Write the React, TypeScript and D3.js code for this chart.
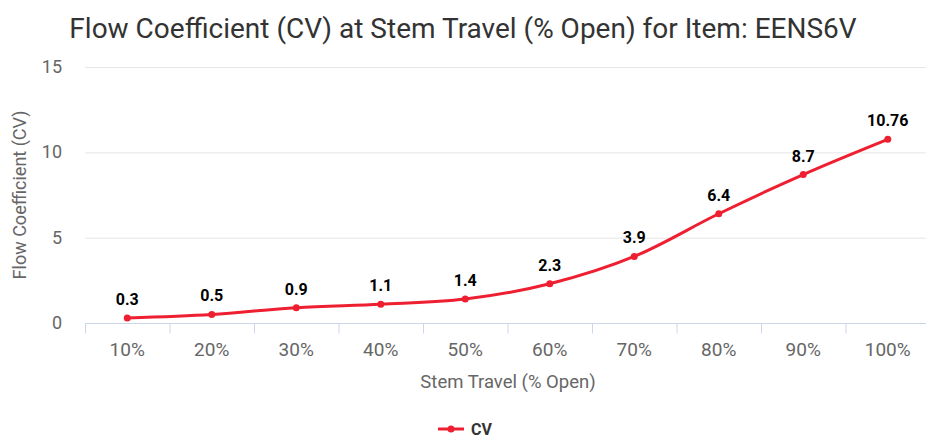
import { useEffect, useRef } from "react";
import * as d3 from "d3";

const categories = ["10%", "20%", "30%", "40%", "50%", "60%", "70%", "80%", "90%", "100%"];
const cvValues = [0.3, 0.5, 0.9, 1.1, 1.4, 2.3, 3.9, 6.4, 8.7, 10.76];
const yTicks = [0, 5, 10, 15];

const W = 926;
const H = 438;
const FONT = "Roboto, 'Noto Sans', sans-serif";
const RED = "#ee1f30";

const App = () => {
  const svgRef = useRef<SVGSVGElement>(null);

  useEffect(() => {
    const svg = d3.select(svgRef.current);
    svg.selectAll("*").remove();

    const x = d3.scaleBand<string>().domain(categories).range([85, 930]);
    const y = d3.scaleLinear().domain([0, 15]).range([323, 67]);

    // titre
    svg.append("text")
      .attr("x", 463).attr("y", 38)
      .attr("text-anchor", "middle")
      .attr("font-family", FONT).attr("font-size", 28)
      .attr("fill", "#333")
      .text("Flow Coefficient (CV) at Stem Travel (% Open) for Item: EENS6V");

    // grille + labels y
    const gy = svg.append("g");
    gy.selectAll("line")
      .data(yTicks.filter(d => d > 0))
      .join("line")
      .attr("x1", 85).attr("x2", W)
      .attr("y1", d => y(d) + 0.5).attr("y2", d => y(d) + 0.5)
      .attr("stroke", "#e6e6e6");
    gy.selectAll("text")
      .data(yTicks)
      .join("text")
      .attr("x", 62).attr("y", d => y(d) + 6)
      .attr("text-anchor", "end")
      .attr("font-family", FONT).attr("font-size", 18)
      .attr("fill", "#666")
      .text(d => d);

    // axe x
    const gx = svg.append("g").attr("transform", `translate(0, ${y(0) + 0.5})`);
    gx.append("line").attr("x1", 85).attr("x2", W).attr("stroke", "#ccd6eb");
    gx.selectAll("line.tick")
      .data(categories.concat(["end"]))
      .join("line")
      .attr("class", "tick")
      .attr("x1", (_, i) => 85 + i * x.bandwidth() + 0.5)
      .attr("x2", (_, i) => 85 + i * x.bandwidth() + 0.5)
      .attr("y1", 0).attr("y2", 10)
      .attr("stroke", "#ccd6eb");
    gx.selectAll("text")
      .data(categories)
      .join("text")
      .attr("x", d => x(d)! + x.bandwidth() / 2)
      .attr("y", 32)
      .attr("text-anchor", "middle")
      .attr("font-family", FONT).attr("font-size", 19)
      .attr("fill", "#666")
      .text(d => d);

    // titres des axes
    svg.append("text")
      .attr("x", 508).attr("y", 388)
      .attr("text-anchor", "middle")
      .attr("font-family", FONT).attr("font-size", 18.5)
      .attr("fill", "#666")
      .text("Stem Travel (% Open)");
    svg.append("text")
      .attr("transform", `translate(26, 195) rotate(-90)`)
      .attr("text-anchor", "middle")
      .attr("font-family", FONT).attr("font-size", 18)
      .attr("fill", "#666")
      .text("Flow Coefficient (CV)");

    // la courbe
    const px = (i: number) => x(categories[i])! + x.bandwidth() / 2;
    const line = d3.line<number>()
      .x((_, i) => px(i))
      .y(d => y(d))
      .curve(d3.curveMonotoneX);
    svg.append("path")
      .datum(cvValues)
      .attr("d", line)
      .attr("fill", "none")
      .attr("stroke", RED)
      .attr("stroke-width", 3);
    svg.selectAll("circle.pt")
      .data(cvValues)
      .join("circle")
      .attr("class", "pt")
      .attr("cx", (_, i) => px(i)).attr("cy", d => y(d))
      .attr("r", 3.5)
      .attr("fill", RED);
    svg.selectAll("text.lbl")
      .data(cvValues)
      .join("text")
      .attr("class", "lbl")
      .attr("x", (_, i) => px(i)).attr("y", d => y(d) - 13)
      .attr("text-anchor", "middle")
      .attr("font-family", FONT).attr("font-size", 16).attr("font-weight", "bold")
      .attr("fill", "#000")
      .text(d => d);

    // légende
    const lg = svg.append("g").attr("transform", "translate(438, 429)");
    lg.append("line").attr("x1", 0).attr("x2", 26).attr("stroke", RED).attr("stroke-width", 3);
    lg.append("circle").attr("cx", 13).attr("r", 3.5).attr("fill", RED);
    lg.append("text")
      .attr("x", 33).attr("y", 6)
      .attr("font-family", FONT).attr("font-size", 16).attr("font-weight", "bold")
      .attr("fill", "#333")
      .text("CV");
  }, []);

  return (
    <svg ref={svgRef} width={W} height={H}
      style={{ position: "absolute", left: 0, top: 0, background: "#fff" }} />
  );
};

export default App;
